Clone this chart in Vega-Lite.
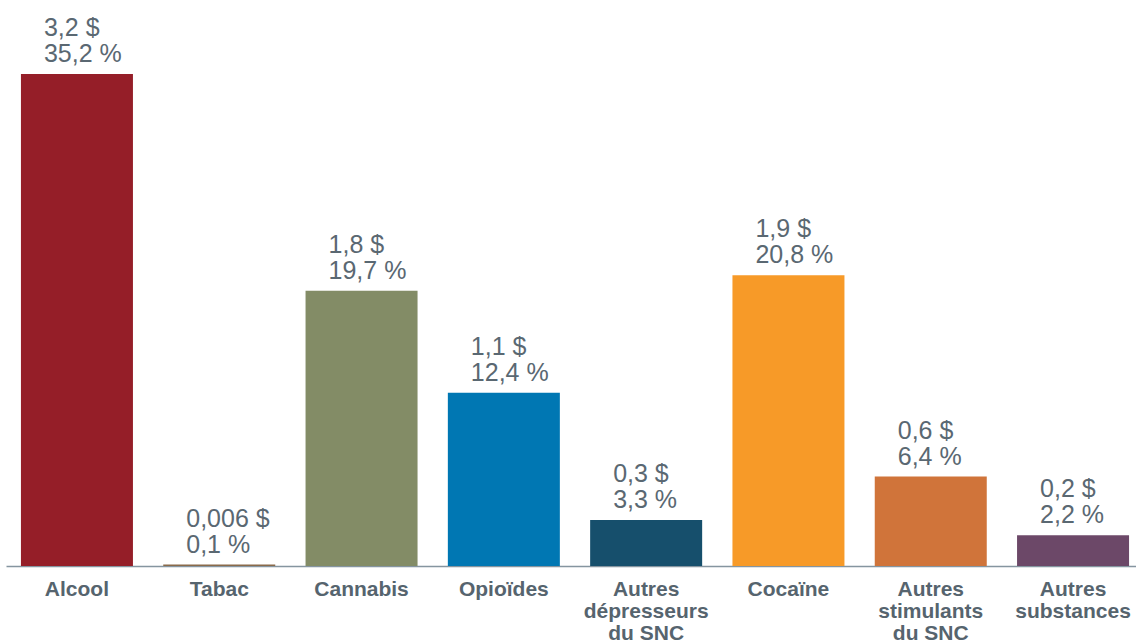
{
  "$schema": "https://vega.github.io/schema/vega-lite/v6.json",
  "width": 1138,
  "height": 559,
  "autosize": {"type": "none"},
  "padding": {"left": 6, "top": 7, "right": 0, "bottom": 77},
  "background": "white",
  "config": {"view": {"stroke": null}, "font": "Liberation Sans"},
  "data": {"values": [
    {"substance": "Alcool", "cout": "3,2 $", "pct": 35.2, "pctLabel": "35,2 %"},
    {"substance": "Tabac", "cout": "0,006 $", "pct": 0.1, "pctLabel": "0,1 %"},
    {"substance": "Cannabis", "cout": "1,8 $", "pct": 19.7, "pctLabel": "19,7 %"},
    {"substance": "Opioïdes", "cout": "1,1 $", "pct": 12.4, "pctLabel": "12,4 %"},
    {"substance": "Autres dépresseurs du SNC", "cout": "0,3 $", "pct": 3.3, "pctLabel": "3,3 %"},
    {"substance": "Cocaïne", "cout": "1,9 $", "pct": 20.8, "pctLabel": "20,8 %"},
    {"substance": "Autres stimulants du SNC", "cout": "0,6 $", "pct": 6.4, "pctLabel": "6,4 %"},
    {"substance": "Autres substances", "cout": "0,2 $", "pct": 2.2, "pctLabel": "2,2 %"}
  ]},
  "encoding": {
    "x": {
      "field": "substance", "type": "nominal", "sort": null,
      "scale": {"paddingInner": 0.2129, "paddingOuter": 0.105},
      "axis": {
        "title": null, "ticks": false, "domainColor": "#8595a0", "domainWidth": 1.5,
        "labelAngle": 0, "labelFont": "Liberation Sans", "labelFontSize": 21, "labelFontWeight": "bold",
        "labelColor": "#56646e", "labelPadding": 12, "labelLineHeight": 22, "labelBaseline": "top",
        "labelExpr": "split(replace(replace(datum.value, 'Autres ', 'Autres|'), ' du ', '|du '), '|')"
      }
    },
    "y": {
      "field": "pct", "type": "quantitative",
      "scale": {"domain": [0, 40]},
      "axis": null
    }
  },
  "layer": [
    {
      "mark": {"type": "bar"},
      "encoding": {
        "color": {
          "field": "substance", "type": "nominal", "sort": null, "legend": null,
          "scale": {"range": ["#951e28", "#8a6a4a", "#838c66", "#0077b3", "#164f6c", "#f79a28", "#d0743a", "#6c4868"]}
        }
      }
    },
    {
      "mark": {"type": "text", "align": "left", "baseline": "alphabetic", "dx": -33, "dy": -38, "fontSize": 25, "color": "#5a6872", "font": "Liberation Sans"},
      "encoding": {"text": {"field": "cout"}}
    },
    {
      "mark": {"type": "text", "align": "left", "baseline": "alphabetic", "dx": -33, "dy": -12, "fontSize": 25, "color": "#5a6872", "font": "Liberation Sans"},
      "encoding": {"text": {"field": "pctLabel"}}
    }
  ]
}
